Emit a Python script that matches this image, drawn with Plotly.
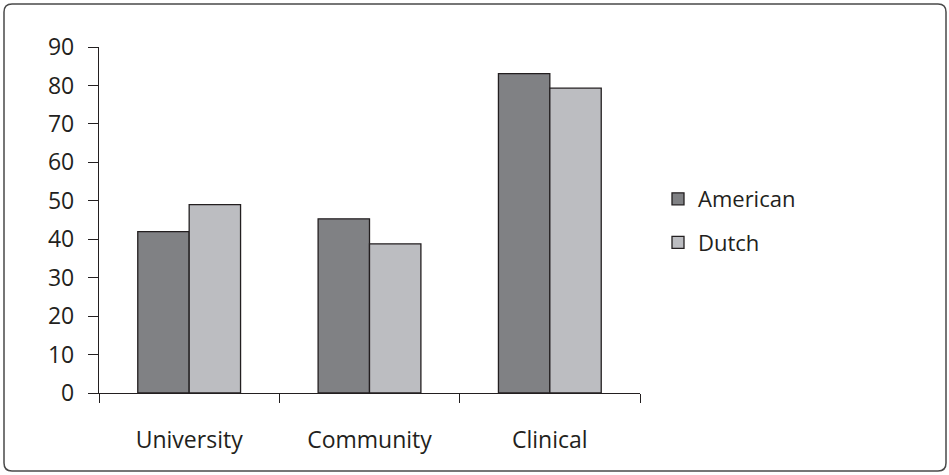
import plotly.graph_objects as go

categories = ["University", "Community", "Clinical"]
american = [42.0, 45.3, 83.1]
dutch = [49.0, 38.8, 79.3]
y_ticks = [0, 10, 20, 30, 40, 50, 60, 70, 80, 90]

W, H = 949, 475
L, R, T, B = 99, 309, 47, 82
pw, ph = W - L - R, H - T - B

def px_to_paper(x, y):
    return (x - L) / pw, (H - B - y) / ph

FONT = "Open Sans"
TXT = "#231f20"
EDGE = "#231f20"
FS = 23

fig = go.Figure()
fig.add_trace(go.Bar(name="American", x=categories, y=american,
                     marker=dict(color="#808184", line=dict(color=EDGE, width=1.3)),
                     legendgroup="a"))
fig.add_trace(go.Bar(name="Dutch", x=categories, y=dutch,
                     marker=dict(color="#bcbdc1", line=dict(color=EDGE, width=1.3)),
                     legendgroup="d"))

# rounded border
x0, y0 = px_to_paper(4, 471)
x1, y1 = px_to_paper(946, 4)
rx, ry = 8 / pw, 8 / ph
path = (f"M {x0+rx},{y1} L {x1-rx},{y1} Q {x1},{y1} {x1},{y1-ry} "
        f"L {x1},{y0+ry} Q {x1},{y0} {x1-rx},{y0} "
        f"L {x0+rx},{y0} Q {x0},{y0} {x0},{y0+ry} "
        f"L {x0},{y1-ry} Q {x0},{y1} {x0+rx},{y1} Z")

lx, ly = px_to_paper(658, 221)

fig.update_layout(
    width=W, height=H,
    margin=dict(l=L, r=R, t=T, b=B, autoexpand=False),
    paper_bgcolor="white", plot_bgcolor="white",
    font=dict(family=FONT, size=FS, color=TXT),
    barmode="group", bargap=0.43, bargroupgap=0,
    shapes=[dict(type="path", path=path, xref="paper", yref="paper",
                 line=dict(color="#4a4a4a", width=1.5), layer="above")],
    legend=dict(x=lx, y=ly, xanchor="left", yanchor="middle",
                traceorder="grouped", tracegroupgap=12,
                font=dict(family=FONT, size=FS - 1, color=TXT),
                bgcolor="rgba(0,0,0,0)"),
    xaxis=dict(type="category", showline=True, linecolor=EDGE, linewidth=1.3,
               ticks="outside", tickson="boundaries", ticklen=9,
               tickcolor=EDGE, tickwidth=1.3, showgrid=False,
               ticklabelstandoff=26),
    yaxis=dict(range=[0, 90], tickvals=y_ticks, showline=True, linecolor=EDGE,
               linewidth=1.3, ticks="outside", ticklen=10, tickcolor=EDGE,
               tickwidth=1.3, showgrid=False, zeroline=False,
               ticklabelstandoff=9),
)

fig.write_html("out.html", config={"displayModeBar": False},
               post_script="document.body.style.margin='0';document.body.style.overflow='hidden';")
